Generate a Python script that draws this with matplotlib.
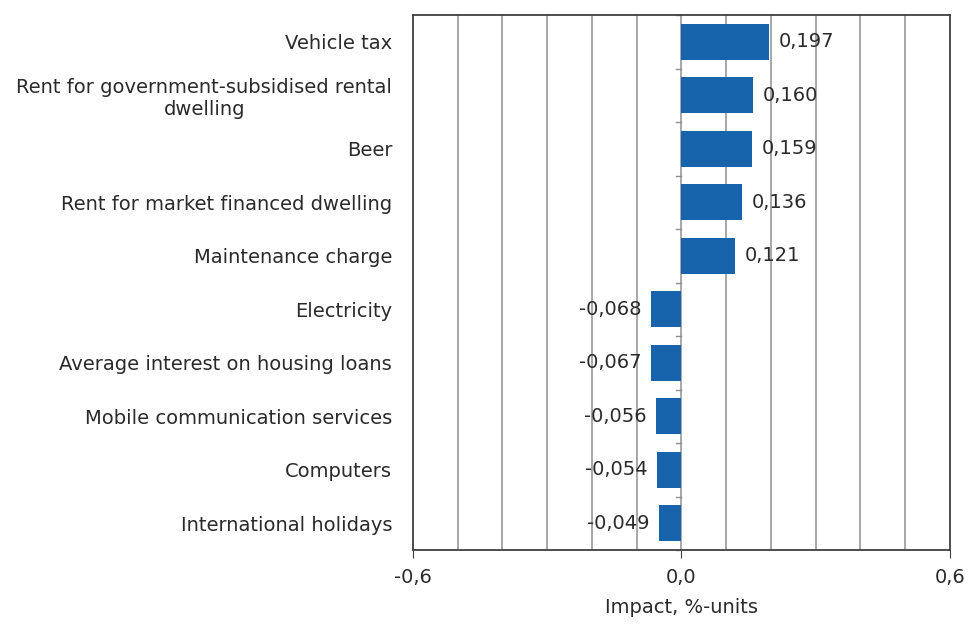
import matplotlib
matplotlib.use("Agg")
import matplotlib.pyplot as plt
import numpy as np

# data (top to bottom)
categories = [
    "Vehicle tax",
    "Rent for government-subsidised rental\ndwelling",
    "Beer",
    "Rent for market financed dwelling",
    "Maintenance charge",
    "Electricity",
    "Average interest on housing loans",
    "Mobile communication services",
    "Computers",
    "International holidays",
]
impact = [0.197, 0.160, 0.159, 0.136, 0.121, -0.068, -0.067, -0.056, -0.054, -0.049]
x_ticks = [-0.6, 0.0, 0.6]

plt.rcParams["font.family"] = ["DejaVu Sans"]
bar_color = "#1764ad"
txt_color = "#2a2a2a"
fs = 14

fig = plt.figure(figsize=(9.7, 6.25), dpi=100)
ax = fig.add_axes([0.4258, 0.12, 0.5533, 0.856])

y = np.arange(len(categories))
ax.barh(y, impact, height=0.68, color=bar_color, zorder=3)
ax.set_ylim(len(categories) - 0.5, -0.5)
ax.set_xlim(-0.6, 0.6)

# vertical gridlines every 0.1
for gx in np.arange(-0.5, 0.55, 0.1):
    ax.axvline(gx, color="#a0a0a0", lw=1.3, zorder=1)

# small tick marks on the zero line between categories
for b in np.arange(-0.5, len(categories), 1.0):
    ax.plot([-0.012, 0], [b, b], color="#909090", lw=1, zorder=2, clip_on=False)

# value labels
for yi, v in zip(y, impact):
    txt = f"{v:.3f}".replace(".", ",")
    if v >= 0:
        ax.annotate(txt, (v, yi), xytext=(7, 0), textcoords="offset points",
                    ha="left", va="center", fontsize=fs, color=txt_color, zorder=4)
    else:
        ax.annotate(txt, (v, yi), xytext=(-7, 0), textcoords="offset points",
                    ha="right", va="center", fontsize=fs, color=txt_color, zorder=4)

ax.set_yticks(y)
ax.set_yticklabels(categories, fontsize=fs, color=txt_color, multialignment="center")
ax.tick_params(axis="y", length=0, pad=15)

ax.set_xticks(x_ticks)
ax.set_xticklabels([f"{t:.1f}".replace(".", ",") for t in x_ticks], fontsize=fs, color=txt_color)
ax.tick_params(axis="x", direction="out", length=6, color="#404040", pad=7)
ax.set_xlabel("Impact, %-units", fontsize=fs, color=txt_color, labelpad=8)

for s in ax.spines.values():
    s.set_color("#404040")
    s.set_linewidth(1.3)

fig.savefig("out.png", dpi=100)
